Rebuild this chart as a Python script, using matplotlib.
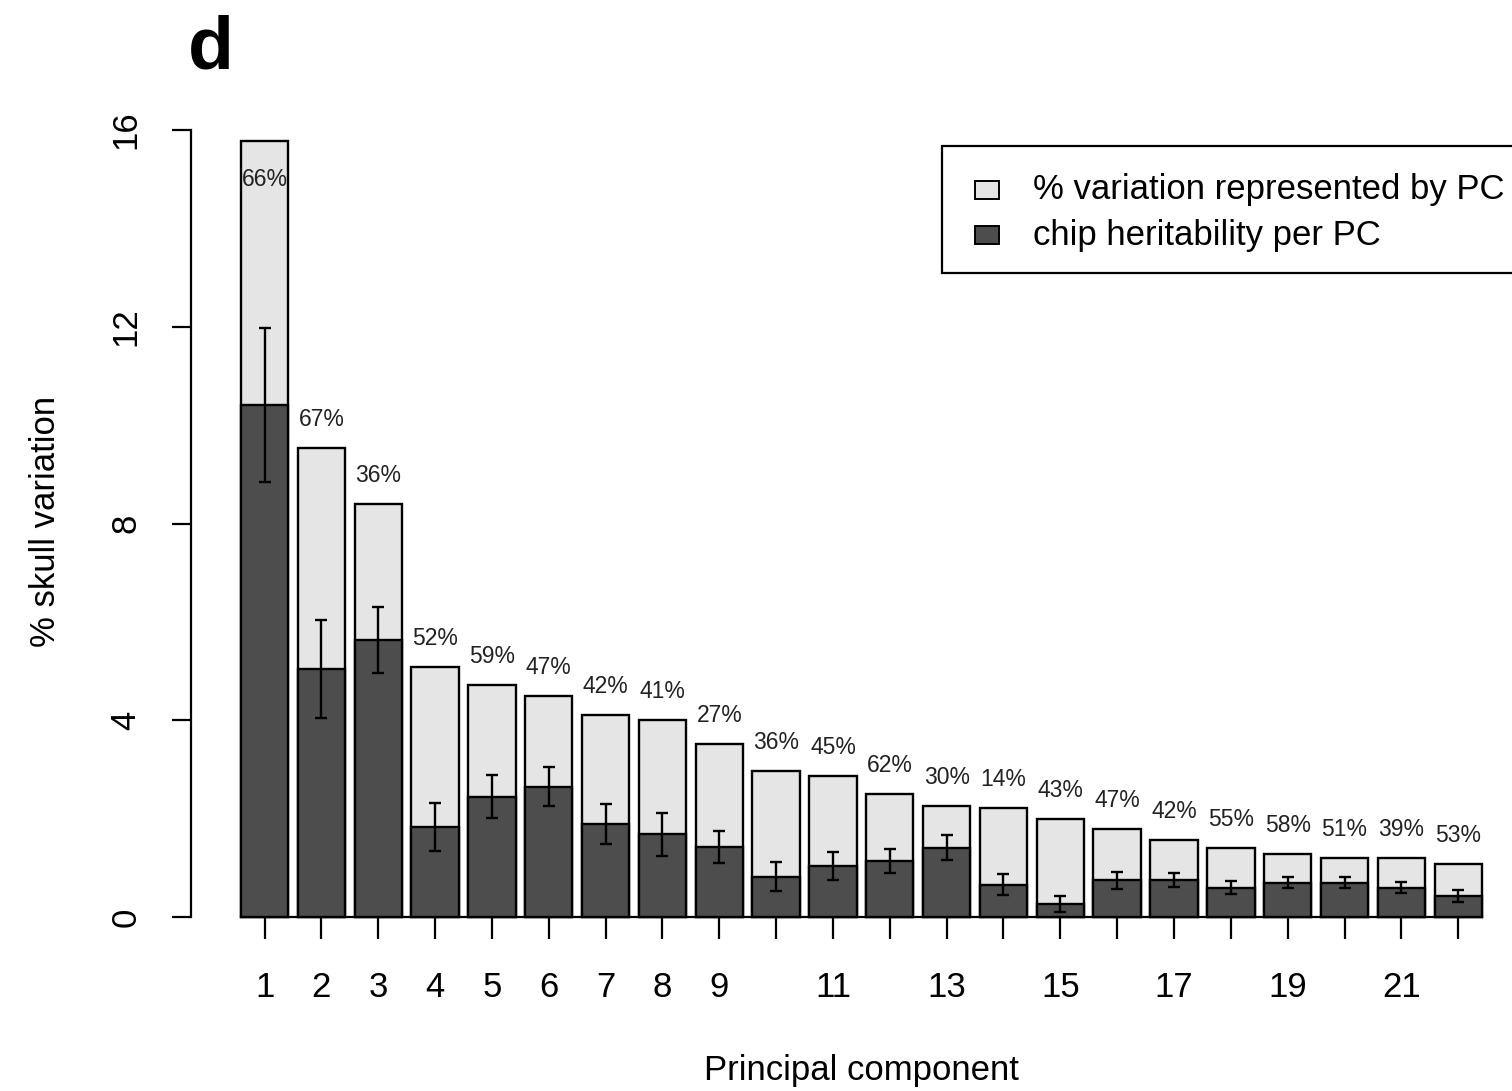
import numpy as np
import matplotlib
matplotlib.use("Agg")
import matplotlib.pyplot as plt
from matplotlib.patches import Rectangle

plt.rcParams['font.family'] = ['Liberation Sans', 'DejaVu Sans']

# % of skull shape variation carried by each principal component
pc_variation = [15.78, 9.53, 8.40, 5.09, 4.72, 4.49, 4.11, 4.00, 3.52, 2.97, 2.87,
                2.50, 2.26, 2.22, 2.00, 1.78, 1.57, 1.40, 1.29, 1.19, 1.19, 1.07]
# chip heritability portion of each PC and its standard error
chip_h2 = [10.41, 5.04, 5.63, 1.83, 2.45, 2.65, 1.89, 1.68, 1.42, 0.82, 1.04,
           1.14, 1.41, 0.66, 0.26, 0.75, 0.76, 0.60, 0.70, 0.70, 0.60, 0.43]
chip_se = [1.56, 1.00, 0.67, 0.49, 0.44, 0.39, 0.41, 0.43, 0.33, 0.30, 0.28,
           0.25, 0.25, 0.22, 0.16, 0.17, 0.14, 0.14, 0.11, 0.11, 0.11, 0.12]
h2_pct = [66, 67, 36, 52, 59, 47, 42, 41, 27, 36, 45, 62, 30, 14, 43, 47, 42,
          55, 58, 51, 39, 53]
pc_labels = ["1", "2", "3", "4", "5", "6", "7", "8", "9", "", "11", "", "13", "",
             "15", "", "17", "", "19", "", "21", ""]

LIGHT = "#E5E5E5"
DARK = "#4D4D4D"

n = len(pc_variation)
# barplot-style layout: width 1, space 0.2
x = 0.7 + 1.2 * np.arange(n)

W, H = 1512, 1091
fig = plt.figure(figsize=(W / 100, H / 100), dpi=100)
ax = fig.add_axes([0.1265, 0.1306, 0.8864, 0.7791])

ax.bar(x, pc_variation, width=1.0, color=LIGHT, edgecolor="black", linewidth=1.7, zorder=2)
ax.bar(x, chip_h2, width=1.0, color=DARK, edgecolor="black", linewidth=1.7, zorder=3)
ax.errorbar(x, chip_h2, yerr=chip_se, fmt="none", ecolor="black", elinewidth=1.7,
            capsize=4.5, capthick=1.7, zorder=4)

label_y = np.minimum(np.array(pc_variation) + 0.58, 15.0)
for xi, yi, p in zip(x, label_y, h2_pct):
    ax.text(xi, yi, f"{p}%", ha="center", va="center", fontsize=16.5, color="#222222", zorder=5)

ax.set_xlim(-0.848, 27.448)
ax.set_ylim(-0.64, 16.64)

for side in ["top", "right"]:
    ax.spines[side].set_visible(False)
ax.spines["left"].set_bounds(0, 16)
ax.spines["left"].set_linewidth(1.6)
ax.spines["bottom"].set_position(("data", 0))
ax.spines["bottom"].set_bounds(0.2, x[-1] + 0.5)
ax.spines["bottom"].set_linewidth(1.6)

ax.set_yticks([0, 4, 8, 12, 16])
ax.set_yticklabels(["0", "4", "8", "12", "16"], rotation=90, va="center")
ax.set_xticks(x)
ax.set_xticklabels(pc_labels)
ax.tick_params(axis="y", length=14, width=1.6, pad=21, labelsize=25)
ax.tick_params(axis="x", length=16, width=1.6, pad=23, labelsize=25)

fig.text(0.030, 0.522, "% skull variation", rotation=90, ha="center", va="center", fontsize=25)
fig.text(0.570, 0.019, "Principal component", ha="center", va="center", fontsize=25)
fig.text(0.1395, 0.955, "d", ha="center", va="center", fontsize=54, fontweight="bold")

# legend box, laid out in figure pixels; it runs past the right edge
def fx(px):
    return px / W

def fy(py):
    return 1 - py / H

fig.patches.append(Rectangle((fx(942), fy(273)), fx(1545) - fx(942), fy(146) - fy(273),
                             transform=fig.transFigure, facecolor="white",
                             edgecolor="black", linewidth=1.6, zorder=10))
legend_items = [(LIGHT, "% variation represented by PC", 190),
                (DARK, "chip heritability per PC", 235)]
for color, label, row in legend_items:
    fig.patches.append(Rectangle((fx(975), fy(row + 9)), fx(24), fy(0) - fy(18),
                                 transform=fig.transFigure, facecolor=color,
                                 edgecolor="black", linewidth=1.4, zorder=11))
    fig.text(fx(1033), fy(row), label, ha="left", va="center", fontsize=25, zorder=12)

fig.savefig("out.png", dpi=100)
